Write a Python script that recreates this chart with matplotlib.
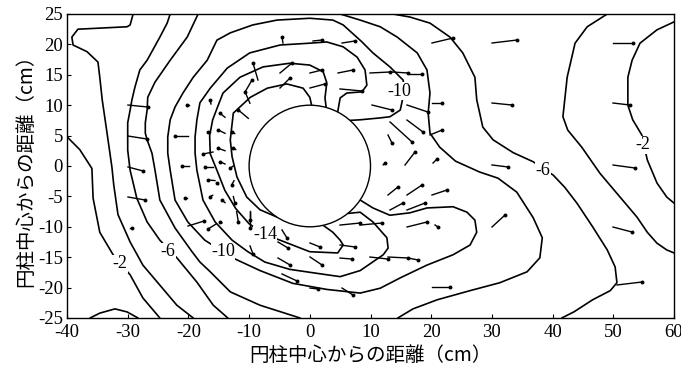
import matplotlib
matplotlib.use("Agg")
import matplotlib.pyplot as plt
from matplotlib.patches import Circle

plt.rcParams['axes.unicode_minus'] = False

# ---- contour lines (x, y in cm), grouped by level ----
m2_left = [(-40, 4.8), (-37.9, 2.7), (-35.9, -0.4), (-35.7, -5.3), (-34.6, -10.9), (-32.4, -14.6),
           (-29.6, -17.9), (-27.5, -21.7), (-24.7, -25)]
m2_bump = [(-36.2, -25), (-34.6, -24.2), (-32.1, -23.5), (-30.1, -24), (-28.3, -25)]
m2_right = [(60, 23.7), (57.2, 22.4), (54.4, 20.2), (53.1, 17.4), (52.4, 14.6), (52.4, 10), (53.2, 7.6),
            (54.7, 5.1), (55.6, 1), (57.2, -2.8), (58.8, -5.1), (60, -6.1)]
m4_left = [(-29.1, 25), (-29.6, 23.2), (-30.1, 22.9), (-38.2, 22.5), (-39.2, 21.2), (-39, 19.9), (-36.7, 18.8),
           (-34.9, 17.1), (-34.6, 14.6), (-34.2, 10.9), (-33.4, 5.4), (-32.6, -0.2), (-32.3, -3.1), (-31.6, -8),
           (-29.6, -12.5), (-27.5, -16.3), (-24.7, -19.6), (-21.9, -22.9), (-19.2, -25)]
m4_right = [(49, 25), (45.7, 22.9), (43.7, 20.2), (42.4, 14.6), (41.7, 8.1), (42.5, 5.9), (44.8, 3.1),
            (47.8, -1.2), (51.1, -5.1), (53.9, -8.4), (55.6, -10.9), (57.2, -12.7), (58.8, -13.8), (60, -14.3)]
m6_left = [(-23, 25), (-23.5, 23.5), (-24.7, 21.2), (-26.8, 17.4), (-28, 15.8), (-28.8, 13), (-29.3, 10.9),
           (-29.6, 9.2), (-30, 7.1), (-30, 4.8), (-30, 2.6), (-29.6, -0.7), (-28.5, -5.3), (-26.8, -9.2),
           (-24.7, -12.2), (-21.9, -15.1), (-18.6, -19.1), (-15.9, -22.9), (-13.5, -25)]
m6_right = [(13.7, 25), (16.5, 24.5), (19.8, 23.5), (23.1, 21.2), (25.2, 18.6), (27.2, 14.6), (27.5, 10.9),
            (28.5, 6.4), (30.2, 4.3), (33.5, 2.2), (36.8, 0.7), (40.1, -1.5), (42, -3.5), (44, -6.1),
            (46.6, -10), (49, -13.8), (50.3, -16.6), (50.6, -19.2), (49.5, -20.5), (46.6, -22), (43.5, -24),
            (41.5, -25)]
m8_left = [(-18.4, 25), (-20.2, 21.2), (-23, 17.4), (-25.5, 13.8), (-26.7, 11.3), (-26.8, 9.2), (-27.1, 7.1),
           (-27.1, 5.4), (-26.8, 4.3), (-26, 2.1), (-25.5, -0.7), (-24.7, -5.6), (-22.2, -10.2), (-19.4, -14.1),
           (-18.1, -15.8), (-16.4, -17.4), (-13.1, -20.7), (-8.2, -22.9), (-1.6, -25)]
m8_right = [(5, 25), (8.3, 24), (11.6, 22.9), (14.4, 21.2), (17.7, 18.6), (19.3, 15.8), (19.8, 12), (19.5, 8.7),
            (19.8, 5.4), (21.4, 3.1), (24, 0.8), (28, -1), (31, -2), (34.1, -4.3), (36.8, -8.5), (38.3, -11.8),
            (37.9, -15.1), (35.8, -17.4), (31.3, -19.2), (26.4, -20.5), (21, -22), (17, -23.5), (14.5, -25)]
m10 = [(6.6, 7.5), (8.3, 7.6), (11.5, 7.9), (13.2, 8.1), (14.9, 9.2), (15.4, 11.5), (15.4, 14.1), (13.2, 16.3),
       (10.4, 18.6), (8.5, 20.5), (5.5, 23.2), (3.8, 24), (0, 24.3), (-5.4, 24), (-9.4, 23.2), (-13.1, 21.9),
       (-15.3, 20.7), (-16.9, 17.4), (-19.2, 14.6), (-20.9, 12), (-22.2, 9.7), (-23, 7.6), (-23.4, 4.8),
       (-23.4, 2.1), (-23, -0.7), (-22.2, -5.6), (-20.1, -9.2), (-17.3, -12.2), (-14.3, -14.1), (-12.3, -15.3),
       (-8.2, -17.2), (-2.8, -19.3), (2.8, -20.3), (8.3, -20.9), (11.6, -20.1), (14.9, -18.4), (19.3, -16.3),
       (23.6, -14.6), (26.4, -13), (27.5, -10.9), (27.2, -8.9), (25.9, -7.6), (23.6, -6.7), (19.3, -6.9),
       (16.5, -7.7), (13.2, -8.1), (10.4, -6.9), (8.3, -5.6)]
m12 = [(4.6, 8.9), (5, 11.2), (6.1, 12), (8.6, 12.2), (9.4, 13.3), (9.1, 15.8), (7.8, 17.9), (5.5, 19.6),
       (2.8, 20.4), (0, 20.2), (-4.9, 19.9), (-9.9, 18.6), (-13.6, 16.1), (-16.4, 12.8), (-18.1, 10.4),
       (-18.6, 7.6), (-18.9, 4.8), (-18.9, 2.1), (-18.6, -0.7), (-17.6, -5.6), (-15.6, -9.2), (-12.8, -12.2),
       (-10.2, -14.1), (-7.4, -15.8), (-3.3, -17), (0.8, -17.6), (5, -18.2), (8.3, -17.2), (12.1, -14.6),
       (12.9, -13.5), (12.7, -11.8), (10.4, -9.2), (8.3, -7.6), (6.3, -7.8)]
m14 = [(2.7, 9.6), (2.5, 11.2), (2.8, 13.7), (2.2, 15.5), (0, 16.6), (-3.3, 16.9), (-7.7, 16.3), (-11.5, 14.6),
       (-14.3, 12), (-15.2, 9.7), (-16, 7.6), (-16.5, 5), (-16.4, 2), (-15.3, -0.7), (-14, -4), (-12.2, -7),
       (-10, -9.5), (-7.4, -11.3), (-4.9, -12.2), (0, -14.1), (4.6, -14.3), (5.5, -13), (5, -12.2),
       (3.8, -10.9), (2.2, -9.75)]
m16 = [(0.3, 10), (0, 11.3), (-1.1, 12.8), (-3.8, 13.5), (-7, 12.8), (-9.8, 11.3), (-12.6, 8.7), (-13.1, 4.3),
       (-12.8, 1.5), (-12, -1.8), (-10.4, -5.1), (-8.2, -7.2), (-5.4, -8.4)]

contour_lines = [m2_left, m2_bump, m2_right, m4_left, m4_right, m6_left, m6_right,
                 m8_left, m8_right, m10, m12, m14, m16]

# contour labels: text, x, y
label_text = ['-2', '-6', '-10', '-14', '-10', '-6', '-2']
label_x = [-31.3, -23.4, -14.3, -7.4, 14.8, 38.4, 54.9]
label_y = [-16.1, -14.1, -14.1, -11.3, 12.3, -0.8, 3.5]

# velocity vectors: measuring point (dot) and direction/length (cm)
vec_x = [-26.66, -26.82, -27.48, -22.21, -21.05, -20.23, -16.44, -17.6, -4.58, 2.01, 7.45, -9.36, -2.93, 2.01,
         7.12, -3.26, 2.5, 8.6, 23.59, 34.14, 53.25, 13.21, 16.18, 18.48, 13.54, 19.47, 21.78, 18.65, 16.84,
         13.54, 21.78, 32.65, 33.31, 52.75, 53.58, 17.33, 12.39, 20.96, 14.53, 18.48, 22.6, 15.35, 18.98, 8.27,
         11.89, 19.31, 21.12, 32.16, 53.08, 7.45, 6.95, 12.88, 16.18, 17.83, 23.1, 54.73, 7.12, -3.76, -3.59,
         1.68, -3.26, 2.01, -2.11, 1.35, -9.36, -9.85, -27.15, -29.29, -17.43, -16.77, -20.56,
         -9.52, -10.68, -11.78, -14.79, -16.72, -15.07, -12.87, -15.07, -12.6, -17.27, -14.79, -13.15,
         -16.72, -15.34, -12.87, -16.44, -14.51, -12.32, -14.79, -11.78, -9.85]
vec_y = [9.7, 4.44, -0.82, 4.93, 0.0, 10.03, 10.86, 1.97, 21.22, 20.72, 20.56, 16.94, 16.94, 15.79, 15.79, 14.47,
         13.49, 12.34, 21.05, 20.72, 20.23, 15.46, 15.3, 15.13, 9.21, 8.88, 10.36, 5.59, 3.95, 3.78, 5.92,
         -0.16, 10.03, 10.03, -0.33, 2.3, 0.49, 1.15, -3.45, -3.13, -3.95, -6.09, -6.09, -9.38, -9.38, -9.21,
         -10.03, -8.06, -10.86, -13.32, -15.3, -15.3, -15.13, -15.46, -19.9, -19.08, -21.22, -11.84, -13.49,
         -13.32, -16.28, -16.28, -18.91, -20.23, -14.47, -10.2, -5.59, -10.2, -9.05, -10.36, -5.26,
         14.14, 12.22, 9.21, 8.67, 5.64, 5.92, 5.64, 2.91, 2.91, -0.11, 0.71, -0.38,
         -2.3, -2.85, -3.13, -5.04, -5.59, -6.14, -9.16, -9.16, -8.88]
vec_u = [3.3, 3.13, 2.47, -2.14, -1.15, -0.3, -0.16, -1.65, -0.16, 1.48, 2.14, -0.82, 1.98, 1.98, 2.47, 1.65,
         2.47, 3.62, 3.46, 4.12, 3.29, 3.29, 2.64, 1.98, 3.29, 3.46, 1.65, 2.64, 3.62, 0.66, 1.98, 2.64, 3.29,
         2.8, 3.62, 1.65, 0.3, 0.66, 1.65, 2.47, 2.47, 2.14, 2.97, 3.29, 3.62, 3.29, 0.49, 2.14, 3.13, 2.47,
         1.98, 2.97, 3.29, 1.65, 2.97, 4.12, 1.81, 0.82, 1.65, 1.65, 1.98, 1.98, 2.47, 1.32, 0.49, 0.0, 2.8,
         0.33, 2.64, -1.3, -0.3,
         1.15, -0.82, -1.65, -0.82, -0.3, -1.1, -0.5, -1.1, -0.4, -1.26, -0.82, -0.55,
         -1.1, -0.3, -0.38, -0.44, -0.55, 0.27, -0.3, 0.27, 0.0]
vec_v = [-0.33, -0.49, -0.66, 0.0, 0.0, 0.0, 0.66, -0.33, 0.99, 0.16, 0.33, 2.8, 1.64, 0.49, 0.49, 1.64, 0.66,
         -0.33, 0.82, 0.49, 0.0, 0.16, -0.16, 0.0, -0.82, -1.15, 0.0, -1.97, -3.29, -1.32, 0.82, -0.33, -0.33,
         -0.33, -0.49, 2.14, 0.3, 0.66, 1.32, 1.64, 0.82, 1.15, 1.15, 0.33, 0.33, 0.82, -0.33, 1.97, -0.82,
         -0.33, -0.16, -0.33, -0.16, -0.33, 0.0, 0.49, -1.15, -1.32, -0.99, -0.66, -1.15, -1.32, -1.15, -0.16,
         -1.32, -2.8, -0.49, 0.0, 0.82, -0.8, 0.0,
         1.97, 1.9, 1.37, 0.66, 0.0, 0.55, 0.3, 0.4, 0.2, 0.0, 0.38, -0.38,
         0.1, 0.2, -0.71, -0.22, 0.44, -1.1, 0.2, -1.64, -1.37]

cyl_center = (0.0, 0.0)
cyl_radius = 10.0

fig = plt.figure(figsize=(6.81, 3.69), dpi=100)
ax = fig.add_axes([67 / 681, 51 / 369, 607 / 681, 304 / 369])

for line in contour_lines:
    xs = [p[0] for p in line]
    ys = [p[1] for p in line]
    ax.plot(xs, ys, color='black', lw=1.2, solid_joinstyle='round', solid_capstyle='round', zorder=2)

ax.add_patch(Circle(cyl_center, cyl_radius, facecolor='white', edgecolor='black', lw=1.0, zorder=3))

for t, x, y in zip(label_text, label_x, label_y):
    ax.text(x, y, t, ha='center', va='center', fontsize=13, family='Liberation Serif',
            bbox=dict(facecolor='white', edgecolor='none', pad=0.3), zorder=4)

for x, y, u, v in zip(vec_x, vec_y, vec_u, vec_v):
    ax.plot([x - u, x], [y - v, y], color='black', lw=1.0, zorder=5)
ax.scatter(vec_x, vec_y, s=8, color='black', zorder=6, linewidths=0)

ax.set_xlim(-40, 60)
ax.set_ylim(-25, 25)
ax.set_xticks(range(-40, 61, 10))
ax.set_yticks(range(-25, 26, 5))
ax.tick_params(direction='in', length=3, width=0.8, labelsize=13.5)
ax.tick_params(axis='x', pad=4)
ax.tick_params(axis='y', pad=3)
for lab in ax.get_xticklabels() + ax.get_yticklabels():
    lab.set_family('Liberation Serif')
for s in ax.spines.values():
    s.set_linewidth(1.0)

ax.set_xlabel('円柱中心からの距離（cm）', family=['Noto Sans CJK JP', 'DejaVu Sans'], fontsize=14, labelpad=3)
ax.set_ylabel('円柱中心からの距離（cm）', family=['Noto Sans CJK JP', 'DejaVu Sans'], fontsize=14, labelpad=1)

fig.savefig('out.png', dpi=100)
